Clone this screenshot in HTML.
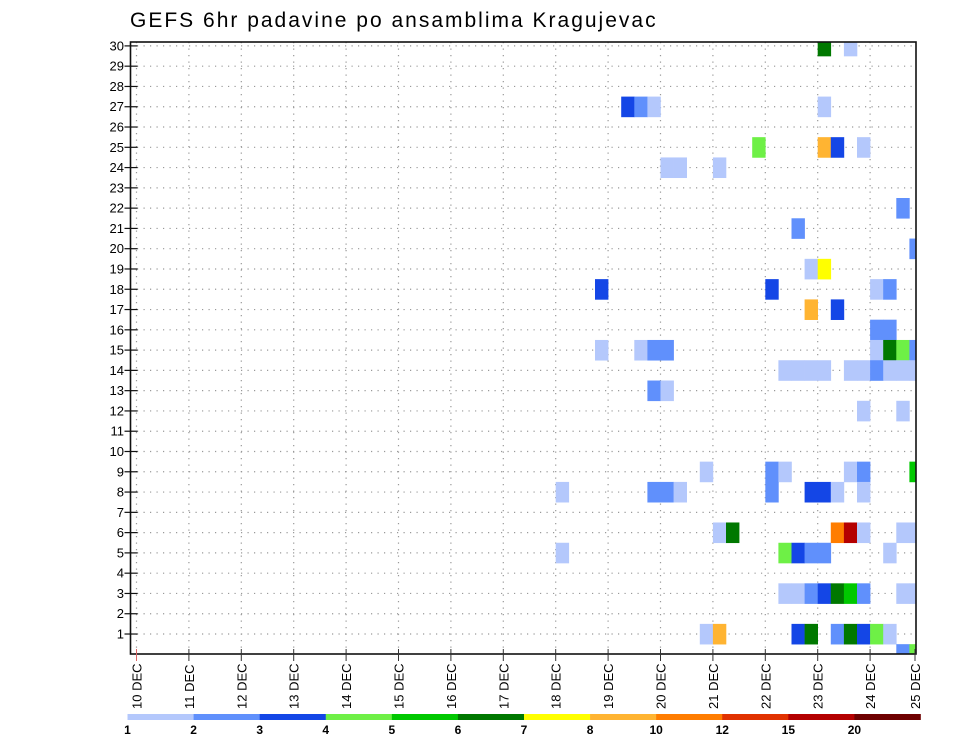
<!DOCTYPE html>
<html><head><meta charset="utf-8"><style>
body{margin:0;background:#fff;width:960px;height:742px;overflow:hidden;font-family:"Liberation Sans",sans-serif}
</style></head><body>
<svg id="chart" width="960" height="742" xmlns="http://www.w3.org/2000/svg" font-family="Liberation Sans, sans-serif">
<text x="130" y="27" font-size="21" letter-spacing="2" fill="#000">GEFS 6hr padavine po ansamblima Kragujevac</text>
<g id="grid"></g>
<g id="cells"></g>
<rect x="130.5" y="42" width="785.5" height="612" fill="none" stroke="#111" stroke-width="1.6"/>
<g id="axes"></g>
<g id="legend"></g>
</svg>
<script>
const dayLabels=["10","11","12","13","14","15","16","17","18","19","20","21","22","23","24","25"];
const memberTicks=[1,2,3,4,5,6,7,8,9,10,11,12,13,14,15,16,17,18,19,20,21,22,23,24,25,26,27,28,29,30];
const levelLabels=["1","2","3","4","5","6","7","8","10","12","15","20"];
const levelColors=["#b4c8fc","#6090fc","#1446e6","#6ef046","#00c800","#007800","#ffff00","#ffb432","#ff7d00","#e13200","#b40000","#6e0000"];
// cells: [member, 6h step index from 10 DEC 00z, color level index]
const cellMember=[30,30,27,27,27,27,25,25,25,25,24,24,24,22,21,20,19,19,18,18,18,18,17,17,16,16,15,15,15,15,15,15,15,15,
14,14,14,14,14,14,14,14,14,14,13,13,12,12,9,9,9,9,9,9,8,8,8,8,8,8,8,8,8,6,6,6,6,6,6,6,5,5,5,5,5,5,
3,3,3,3,3,3,3,3,3,1,1,1,1,1,1,1,1,1,0,0];
const cellStep=[52,54,37,38,39,52,47,52,53,55,40,41,44,58,50,59,51,52,35,48,56,57,51,53,56,57,35,38,39,40,56,57,58,59,
49,50,51,52,54,55,56,57,58,59,39,40,55,58,43,48,49,54,55,59,32,39,40,41,48,51,52,53,55,44,45,53,54,55,58,59,32,49,50,51,52,57,
49,50,51,52,53,54,55,58,59,43,44,50,51,53,54,55,56,57,58,59];
const cellLevel=[5,0,2,1,0,0,3,7,2,0,0,0,0,1,1,1,0,6,2,2,0,1,7,2,1,1,0,0,1,1,0,5,3,1,
0,0,0,0,0,0,1,0,0,0,1,0,0,0,0,1,0,0,1,4,0,1,1,0,1,2,2,0,0,0,5,8,10,0,0,0,0,3,2,1,1,0,
0,0,1,2,5,4,1,0,0,0,7,2,5,1,5,2,3,0,1,3];

const NS="http://www.w3.org/2000/svg";
const L=130.5,R=916,T=42,B=654;
const X0=136.5,DW=52.4;
const xDay=d=>X0+d*DW;
const xStep=s=>X0+s*DW/4;
const yM=v=>654.3-v*20.28;
function mk(tag,attrs,parent){const e=document.createElementNS(NS,tag);for(const k in attrs)e.setAttribute(k,attrs[k]);parent.appendChild(e);return e;}
const grid=document.getElementById('grid'),cells=document.getElementById('cells'),axes=document.getElementById('axes'),leg=document.getElementById('legend');

memberTicks.forEach(m=>{
  const y=yM(m);
  const g=mk('line',{x1:L,x2:R,y1:y,y2:y,stroke:'#999','stroke-width':1.2,'stroke-dasharray':'1.2 5.3'},grid);
  
  
  const t=mk('line',{x1:L-6,x2:L+7,y1:y,y2:y,stroke:'#111','stroke-width':1.2},axes);
  
  
  const lb=mk('text',{x:124,y:y+4.5,'font-size':13,'text-anchor':'end',fill:'#000'},axes);
  lb.textContent=m;
  
  
});
dayLabels.forEach((d,i)=>{
  const x=xDay(i);
  if(x<R-2){
    const g=mk('line',{x1:x,x2:x,y1:T,y2:B,stroke:'#999','stroke-width':1.2,'stroke-dasharray':'1.2 5.3'},grid);
    
    
  }
  const tx=Math.min(x,915);
  const t=mk('line',{x1:tx,x2:tx,y1:B-5,y2:B+7,stroke:i==0?'#d66':'#333','stroke-width':1},axes);
  
  
  const lb=mk('text',{x:0,y:0,'font-size':13,fill:'#000',transform:`translate(${tx+5},709) rotate(-90)`},axes);
  lb.textContent=d+" DEC";
  
  
});
const clip=mk('clipPath',{id:'pc'},document.getElementById('chart'));
mk('rect',{x:L,y:T,width:R-L,height:B-T},clip);
cells.setAttribute('clip-path','url(#pc)');
cellMember.forEach((m,i)=>{
  const x1=xStep(cellStep[i]),x2=xStep(cellStep[i]+1);
  const y1=yM(m+0.5),y2=yM(m-0.5);
  const r=mk('rect',{x:x1,y:y1,width:x2-x1+0.3,height:y2-y1+0.3,fill:levelColors[cellLevel[i]]},cells);
  
  
});
const lx0=127.5,lw=(920.5-127.5)/12;
levelColors.forEach((c,i)=>{
  const r=mk('rect',{x:lx0+i*lw,y:714,width:lw+0.3,height:6,fill:c},leg);
  
  
  const t=mk('text',{x:lx0+i*lw,y:734,'font-size':12,'font-weight':'bold','text-anchor':'middle',fill:'#000'},leg);
  t.textContent=levelLabels[i];
  
  
});
</script>
</body></html>
